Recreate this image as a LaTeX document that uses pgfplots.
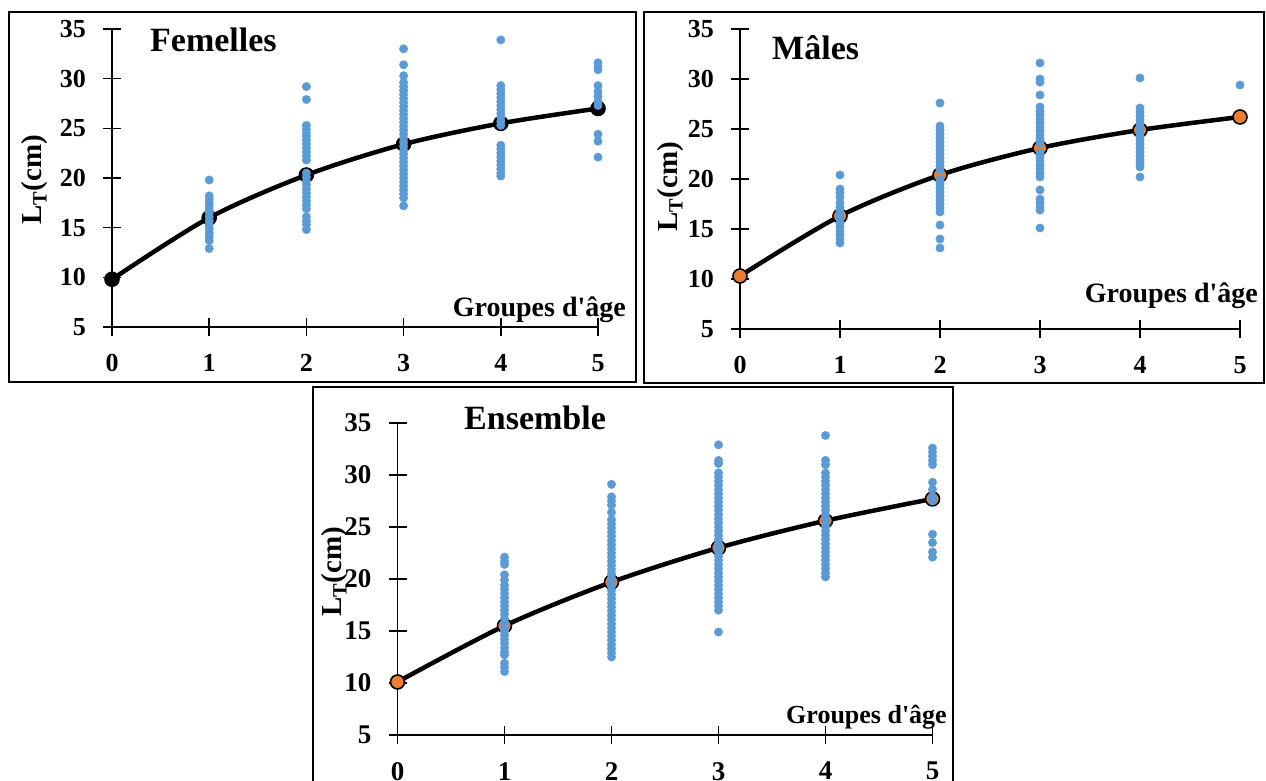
\documentclass[border=0pt]{standalone}
\usepackage{pgfplots}
\pgfplotsset{compat=1.18}
\usepackage{pgfplotstable}
\usepackage{fontspec}
\setmainfont{Liberation Serif}[Ligatures=TeXOff]

\definecolor{dotblue}{HTML}{5B9BD5}
\definecolor{meanorange}{HTML}{ED7D31}

% Individual total lengths (cm) by age group
\pgfplotstableread{
age lt
1 19.8
1 18.2
1 17.9
1 17.5
1 17.2
1 16.8
1 16.5
1 16.1
1 15.7
1 15.3
1 14.9
1 14.5
1 14.1
1 13.7
1 12.9
2 29.2
2 27.9
2 25.3
2 24.9
2 24.5
2 24.2
2 23.8
2 23.4
2 23.0
2 22.6
2 22.2
2 21.8
2 20.5
2 20.1
2 19.7
2 19.3
2 18.9
2 18.5
2 18.1
2 17.7
2 17.3
2 16.9
2 16.1
2 15.7
2 15.3
2 14.8
3 33.0
3 31.4
3 30.3
3 29.6
3 29.2
3 28.8
3 28.4
3 28.0
3 27.6
3 27.2
3 26.8
3 26.4
3 26.0
3 25.6
3 25.2
3 24.8
3 24.4
3 24.0
3 23.6
3 23.2
3 22.8
3 22.4
3 22.0
3 21.6
3 21.2
3 20.8
3 20.4
3 20.0
3 19.6
3 19.2
3 18.8
3 18.4
3 18.0
3 17.2
4 33.9
4 29.3
4 28.9
4 28.5
4 28.1
4 27.7
4 27.3
4 26.9
4 26.5
4 26.1
4 25.7
4 25.3
4 23.3
4 22.9
4 22.5
4 22.1
4 21.7
4 21.3
4 20.9
4 20.5
4 20.2
5 31.6
5 31.2
5 30.9
5 29.3
5 28.7
5 28.2
5 27.7
5 27.3
5 24.4
5 23.7
5 22.1
}\femelles

\pgfplotstableread{
age lt
1 20.4
1 19.0
1 18.6
1 18.2
1 17.6
1 17.2
1 16.8
1 16.4
1 16.0
1 15.6
1 15.2
1 14.8
1 14.4
1 14.0
1 13.6
2 27.6
2 25.3
2 24.9
2 24.5
2 24.1
2 23.7
2 23.3
2 22.9
2 22.5
2 22.1
2 21.7
2 21.3
2 20.9
2 19.9
2 19.5
2 19.1
2 18.7
2 18.3
2 17.9
2 17.5
2 17.1
2 16.7
2 15.4
2 14.0
2 13.1
3 31.6
3 30.0
3 29.7
3 28.4
3 27.2
3 26.8
3 26.4
3 26.0
3 25.6
3 25.2
3 24.8
3 24.4
3 24.0
3 23.6
3 22.6
3 22.2
3 21.8
3 21.4
3 21.0
3 20.6
3 20.2
3 18.9
3 18.0
3 17.6
3 17.2
3 16.9
3 15.1
4 30.1
4 27.1
4 26.7
4 26.3
4 25.9
4 25.5
4 25.1
4 24.7
4 24.3
4 23.9
4 23.5
4 23.1
4 22.7
4 22.3
4 21.9
4 21.5
4 21.2
4 20.2
5 29.4
}\males

\pgfplotstableread{
age lt
1 22.1
1 21.7
1 21.4
1 20.4
1 19.9
1 19.4
1 19.0
1 18.6
1 18.2
1 17.8
1 17.4
1 17.0
1 16.6
1 16.2
1 15.8
1 15.4
1 15.0
1 14.6
1 14.2
1 13.8
1 13.4
1 13.0
1 12.7
1 11.9
1 11.5
1 11.1
2 29.1
2 27.9
2 27.5
2 27.1
2 26.4
2 25.7
2 25.3
2 24.9
2 24.5
2 24.1
2 23.7
2 23.3
2 22.9
2 22.5
2 22.1
2 21.7
2 21.3
2 20.9
2 20.5
2 20.1
2 19.7
2 19.3
2 18.9
2 18.5
2 18.1
2 17.7
2 17.3
2 16.9
2 16.5
2 16.1
2 15.7
2 15.3
2 14.9
2 14.5
2 14.1
2 13.7
2 13.3
2 12.9
2 12.5
3 32.9
3 31.4
3 31.1
3 30.2
3 29.8
3 29.4
3 29.0
3 28.6
3 28.2
3 27.8
3 27.4
3 27.0
3 26.6
3 26.2
3 25.8
3 25.4
3 25.0
3 24.6
3 24.2
3 23.8
3 23.4
3 23.0
3 22.6
3 22.2
3 21.8
3 21.4
3 21.0
3 20.6
3 20.2
3 19.8
3 19.4
3 19.0
3 18.6
3 18.2
3 17.8
3 17.4
3 17.0
3 14.9
4 33.8
4 31.4
4 31.0
4 30.2
4 29.8
4 29.4
4 29.0
4 28.6
4 28.2
4 27.8
4 27.4
4 27.0
4 26.6
4 26.2
4 25.8
4 25.4
4 25.0
4 24.6
4 24.2
4 23.8
4 23.4
4 23.0
4 22.6
4 22.2
4 21.8
4 21.4
4 21.0
4 20.6
4 20.2
5 32.6
5 32.2
5 31.8
5 31.4
5 31.0
5 29.3
5 28.6
5 27.9
5 27.5
5 24.3
5 23.5
5 22.6
5 22.1
}\ensemble

\pgfplotsset{
  growth/.style={
    scale only axis, xmin=0, xmax=5, ymin=5, ymax=35,
    axis lines*=left, axis line style={line width=1.6pt},
    xtick={0,...,5}, ytick={5,10,...,35},
    tick align=center, major tick length=18pt,
    tick style={line width=1.6pt, black},
    clip=false,
    /pgf/number format/assume math mode=true,
    ticklabel style={font=\fontsize{26}{26}\selectfont\bfseries},
    yticklabel style={anchor=east, inner sep=0pt, xshift=-17pt},
    xticklabel style={anchor=north, inner sep=0pt, yshift=-18pt},
  },
  dots/.style={only marks, mark=*, mark size=4.2pt, color=dotblue},
  meanline/.style={black, line width=4.5pt, smooth, mark=*, mark size=7pt,
    mark options={line width=1.6pt, draw=black, fill=#1}},
}

\begin{document}
\begin{tikzpicture}[x=1pt, y=1pt]
\useasboundingbox (0,0) rectangle (1266,781);

% panel frames
\draw[line width=1.6pt] (9,769) rectangle (636,399);
\draw[line width=1.6pt] (644,769) rectangle (1264,398);
\draw[line width=1.6pt] (313,394) rectangle (953,-10);

% Femelles
\begin{axis}[growth, width=486pt, height=298pt, at={(112pt,454pt)}, anchor=south west]
  \addplot[meanline=black] coordinates {(0,9.8) (1,16.0) (2,20.3) (3,23.4) (4,25.5) (5,27.0)};
  \addplot[dots] table[x=age, y=lt] {\femelles};
\end{axis}

% Males
\begin{axis}[growth, width=500pt, height=300pt, at={(740pt,452pt)}, anchor=south west]
  \addplot[meanline=meanorange] coordinates {(0,10.3) (1,16.3) (2,20.4) (3,23.1) (4,24.9) (5,26.2)};
  \addplot[dots] table[x=age, y=lt] {\males};
\end{axis}

% Both sexes
\begin{axis}[growth, width=535pt, height=312pt, at={(397.5pt,46pt)}, anchor=south west,
  ticklabel style={font=\fontsize{27}{27}\selectfont\bfseries}]
  \addplot[meanline=meanorange] coordinates {(0,10.1) (1,15.5) (2,19.7) (3,23.0) (4,25.6) (5,27.7)};
  \addplot[dots] table[x=age, y=lt] {\ensemble};
\end{axis}

% panel titles
\node[anchor=base west, inner sep=0pt, font=\fontsize{34}{34}\selectfont\bfseries] at (150,729) {Femelles};
\node[anchor=base west, inner sep=0pt, font=\fontsize{34}{34}\selectfont\bfseries] at (772,721) {Mâles};
\node[anchor=base west, inner sep=0pt, font=\fontsize{34}{34}\selectfont\bfseries] at (464,351) {Ensemble};

% x-axis captions
\node[anchor=base east, inner sep=0pt, font=\fontsize{28}{28}\selectfont\bfseries] at (626,464) {Groupes d'âge};
\node[anchor=base east, inner sep=0pt, font=\fontsize{28}{28}\selectfont\bfseries] at (1258,478) {Groupes d'âge};
\node[anchor=base east, inner sep=0pt, font=\fontsize{26}{26}\selectfont\bfseries] at (947,57) {Groupes d'âge};

% y-axis captions
\node[rotate=90, inner sep=0pt, font=\fontsize{29}{29}\selectfont\bfseries] at (35,601) {L\textsubscript{T}(cm)};
\node[rotate=90, inner sep=0pt, font=\fontsize{29}{29}\selectfont\bfseries] at (671,594) {L\textsubscript{T}(cm)};
\node[rotate=90, inner sep=0pt, font=\fontsize{29}{29}\selectfont\bfseries] at (335,209) {L\textsubscript{T}(cm)};
\end{tikzpicture}
\end{document}
